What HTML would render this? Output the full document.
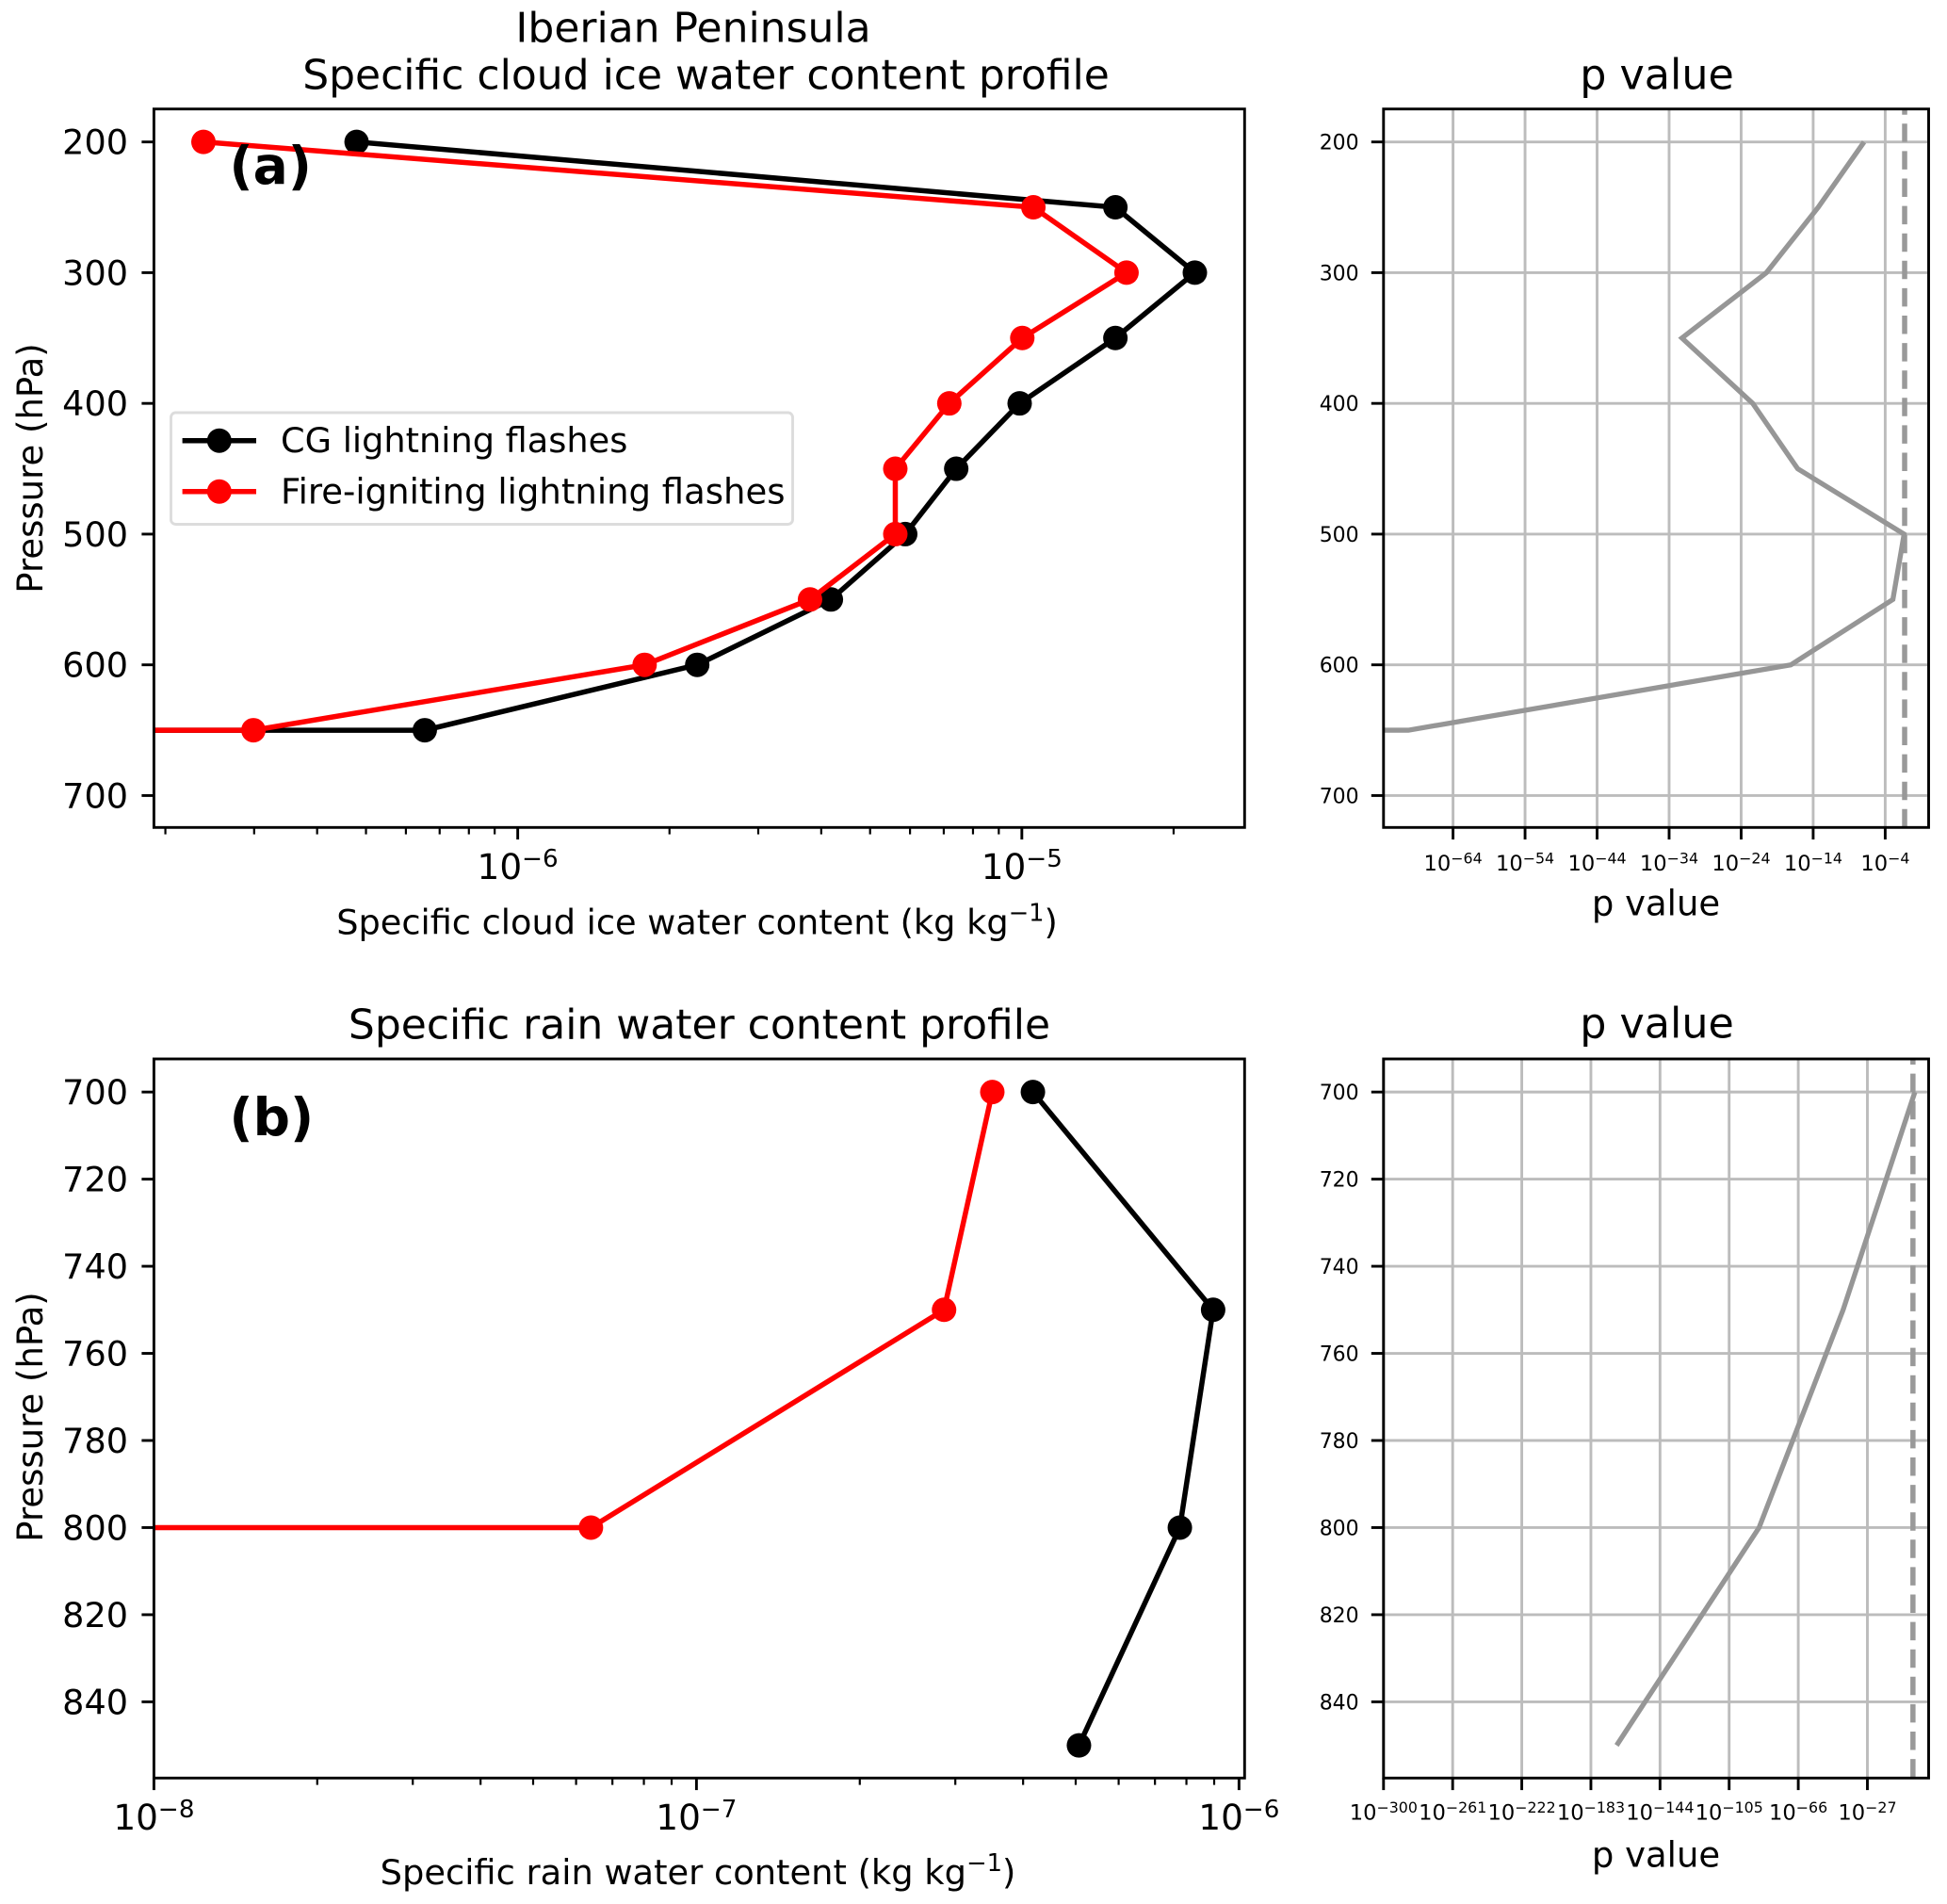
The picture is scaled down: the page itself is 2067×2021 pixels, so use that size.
<!DOCTYPE html>
<html lang="en">
<head>
<meta charset="utf-8">
<title>Iberian Peninsula cloud ice and rain water content profiles</title>
<style>
  html, body { margin: 0; padding: 0; background: #fff; }
  svg { display: block; }
  text { font-family: "DejaVu Sans", "Liberation Sans", sans-serif; fill: #000; }
</style>
</head>
<body>
<svg id="figure" xmlns="http://www.w3.org/2000/svg" width="2067" height="2021" viewBox="0 0 2067 2021">
  <rect x="0" y="0" width="2067" height="2021" fill="#fff"/>
  <defs>
    <clipPath id="clip-ice"><rect x="163.4" y="115.7" width="1157.9" height="762.6"/></clipPath>
    <clipPath id="clip-rain"><rect x="163.4" y="1124" width="1157.9" height="763.3"/></clipPath>
    <clipPath id="clip-pice"><rect x="1468.8" y="115.7" width="578.7" height="762.6"/></clipPath>
    <clipPath id="clip-prain"><rect x="1468.8" y="1124" width="578.7" height="763.3"/></clipPath>
  </defs>

  <g id="panel-ice"></g>
  <g id="panel-rain"></g>
  <g id="panel-pice"></g>
  <g id="panel-prain"></g>

  <text x="736" y="44.3" font-size="44" text-anchor="middle">Iberian Peninsula</text>
  <text x="749.5" y="94.3" font-size="44" text-anchor="middle">Specific cloud ice water content profile</text>
  <text x="742.5" y="1102.3" font-size="44" text-anchor="middle">Specific rain water content profile</text>
  <text x="1759" y="94.3" font-size="44.4" text-anchor="middle">p value</text>
  <text x="1759" y="1101.7" font-size="44.4" text-anchor="middle">p value</text>

  <text x="740" y="991.7" font-size="36.7" text-anchor="middle">Specific cloud ice water content (kg kg<tspan font-size="25.7" dy="-14">−1</tspan><tspan dy="14">)</tspan></text>
  <text x="741" y="2000" font-size="36.8" text-anchor="middle">Specific rain water content (kg kg<tspan font-size="25.8" dy="-14">−1</tspan><tspan dy="14">)</tspan></text>
  <text x="1758" y="971.7" font-size="37" text-anchor="middle">p value</text>
  <text x="1758" y="1981.7" font-size="37" text-anchor="middle">p value</text>

  <text x="45" y="497" font-size="37" text-anchor="middle" transform="rotate(-90 45 497)">Pressure (hPa)</text>
  <text x="45" y="1504" font-size="37" text-anchor="middle" transform="rotate(-90 45 1504)">Pressure (hPa)</text>

  <text x="243.5" y="195" font-size="55" font-weight="bold">(a)</text>
  <text x="243.5" y="1205" font-size="55" font-weight="bold">(b)</text>

  <g>
    <rect x="181.5" y="438" width="660" height="118.5" rx="5" ry="5" fill="#fff" fill-opacity="0.9" stroke="#dcdcdc" stroke-width="2.9"/>
    <line x1="193.6" x2="272" y1="467.7" y2="467.7" stroke="#000" stroke-width="5.5"/>
    <circle cx="232.8" cy="467.7" r="13" fill="#000"/>
    <text x="298" y="480" font-size="36.7">CG lightning flashes</text>
    <line x1="193.6" x2="272" y1="521.7" y2="521.7" stroke="#f00" stroke-width="5.5"/>
    <circle cx="232.8" cy="521.7" r="13" fill="#f00"/>
    <text x="298" y="534.3" font-size="37">Fire-igniting lightning flashes</text>
  </g>
</svg>

<script>
// ---- Panel (a): specific cloud ice water content ----
const icePressure = [200, 250, 300, 350, 400, 450, 500, 550, 600, 650, 650];
const iceCG = [4.79e-7, 1.533e-5, 2.204e-5, 1.533e-5, 9.9e-6, 7.41e-6, 5.87e-6, 4.18e-6, 2.27e-6, 6.54e-7, 1e-8];
const iceFire = [2.38e-7, 1.054e-5, 1.613e-5, 1.002e-5, 7.18e-6, 5.61e-6, 5.61e-6, 3.80e-6, 1.785e-6, 2.99e-7, 1e-8];
const iceMarkerCount = [10];
const iceP = [1.17e-7, 5e-14, 3.2e-21, 6e-33, 4.0e-23, 7.1e-17, 0.042, 1.17e-3, 7.9e-18, 6.3e-71, 1e-90];
const iceXLim = [1.898e-7, 2.766e-5];
const iceYLim = [174.8, 724.4];
const iceYTicks = [200, 300, 400, 500, 600, 700];
const iceXTickExponents = [-6, -5];
const iceXTickLabels = ['−6', '−5'];
const icePLim = [-73.65, 2.03];
const icePTickExponents = [-64, -54, -44, -34, -24, -14, -4];
const icePTickLabels = ['−64', '−54', '−44', '−34', '−24', '−14', '−4'];

// ---- Panel (b): specific rain water content ----
const rainPressureCG = [700, 750, 800, 850];
const rainCG = [4.17e-7, 8.96e-7, 7.78e-7, 5.07e-7];
const rainPressureFire = [700, 750, 800, 800];
const rainFire = [3.51e-7, 2.86e-7, 6.39e-8, 1e-9];
const rainFireMarkerCount = [3];
const rainPPressure = [700, 750, 800, 850];
const rainP = [0.63, 2e-41, 7.9e-89, 3.2e-169];
const rainXLim = [1e-8, 1.024e-6];
const rainYLim = [692.4, 857.5];
const rainYTicks = [700, 720, 740, 760, 780, 800, 820, 840];
const rainXTickExponents = [-8, -7, -6];
const rainXTickLabels = ['−8', '−7', '−6'];
const rainPLim = [-300, 7.55];
const rainPTickExponents = [-300, -261, -222, -183, -144, -105, -66, -27];
const rainPTickLabels = ['−300', '−261', '−222', '−183', '−144', '−105', '−66', '−27'];

const significance = [0.05];

const SVGNS = 'http://www.w3.org/2000/svg';

function make(tag, parent, attrs) {
  const node = document.createElementNS(SVGNS, tag);
  for (const k in attrs) node.setAttribute(k, attrs[k]);
  parent.appendChild(node);
  return node;
}

function xAxis(box, logLim) {
  return function (v) {
    return box.l + (Math.log10(v) - logLim[0]) / (logLim[1] - logLim[0]) * (box.r - box.l);
  };
}
function xAxisExp(box, logLim) {
  return function (e) {
    return box.l + (e - logLim[0]) / (logLim[1] - logLim[0]) * (box.r - box.l);
  };
}
function yAxis(box, lim) {
  return function (p) {
    return box.t + (p - lim[0]) / (lim[1] - lim[0]) * (box.b - box.t);
  };
}

function drawSeries(group, xs, ys, count, color, seriesName, fx, fy, clip) {
  const pts = xs.map(function (v, i) { return fx(v).toFixed(2) + ',' + fy(ys[i]).toFixed(2); }).join(' ');
  const wrap = make('g', group, { 'clip-path': 'url(#' + clip + ')' });
  
  
  const line = make('polyline', wrap, { points: pts, fill: 'none', stroke: color, 'stroke-width': 5.5, 'stroke-linejoin': 'miter' });
  
  
  for (let i = 0; i < count; i++) {
    const dot = make('circle', wrap, { cx: fx(xs[i]), cy: fy(ys[i]), r: 13, fill: color });
    
    
  }
}

function drawFrame(group, box) {
  const frame = make('rect', group, { x: box.l, y: box.t, width: box.r - box.l, height: box.b - box.t, fill: 'none', stroke: '#000', 'stroke-width': 2.9 });
  
  
}

function drawYTicks(group, box, ticks, fy, size, len, labelRight, dyBase) {
  ticks.forEach(function (t) {
    const y = fy(t);
    const tick = make('line', group, { x1: box.l - len, x2: box.l, y1: y, y2: y, stroke: '#000', 'stroke-width': 2.9 });
    
    
    const label = make('text', group, { x: labelRight, y: y + dyBase, 'font-size': size, 'text-anchor': 'end' });
    label.textContent = String(t);
    
    
  });
}

function drawPowerLabel(group, x, baseY, size, supText, supRise, name) {
  const label = make('text', group, { x: x, y: baseY, 'font-size': size, 'text-anchor': 'middle' });
  
  
  const base = make('tspan', label, {});
  base.textContent = '10';
  const sup = make('tspan', label, { 'font-size': size * 0.7, dy: -supRise });
  sup.textContent = supText;
}

function drawLogProfileX(group, box, logLim, exps, labels, baseY) {
  const fe = xAxisExp(box, logLim);
  exps.forEach(function (e, i) {
    const x = fe(e);
    const tick = make('line', group, { x1: x, x2: x, y1: box.b, y2: box.b + 12.8, stroke: '#000', 'stroke-width': 2.9 });
    
    
    drawPowerLabel(group, x, baseY, 37.4, labels[i], 13, 'x-tick-label-1e' + e);
  });
  for (let d = Math.floor(logLim[0]); d < Math.ceil(logLim[1]); d++) {
    for (let m = 2; m <= 9; m++) {
      const e = d + Math.log10(m);
      if (e < logLim[0] || e > logLim[1]) continue;
      const x = fe(e);
      const minor = make('line', group, { x1: x, x2: x, y1: box.b, y2: box.b + 7.3, stroke: '#000', 'stroke-width': 2.2 });
      
      
    }
  }
}

function drawPPanel(group, box, logLim, yLim, xExps, labels, yTicks, pressures, values, clip, baseY, name) {
  const fx = xAxis(box, logLim);
  const fe = xAxisExp(box, logLim);
  const fy = yAxis(box, yLim);
  xExps.forEach(function (e) {
    const x = fe(e);
    const grid = make('line', group, { x1: x, x2: x, y1: box.t, y2: box.b, stroke: '#bcbcbc', 'stroke-width': 2.9 });
    
    
  });
  yTicks.forEach(function (t) {
    const y = fy(t);
    const grid = make('line', group, { x1: box.l, x2: box.r, y1: y, y2: y, stroke: '#bcbcbc', 'stroke-width': 2.9 });
    
    
  });
  const sx = fx(significance[0]);
  const dash = make('line', group, { x1: sx, x2: sx, y1: box.t, y2: box.b, stroke: '#999', 'stroke-width': 5.5, 'stroke-dasharray': '19.5 9.6', 'stroke-dashoffset': 13.5 });
  
  
  const pts = values.map(function (v, i) { return fx(v).toFixed(2) + ',' + fy(pressures[i]).toFixed(2); }).join(' ');
  const curve = make('polyline', group, { points: pts, fill: 'none', stroke: '#969696', 'stroke-width': 5.3, 'clip-path': 'url(#' + clip + ')' });
  
  
  xExps.forEach(function (e, i) {
    const x = fe(e);
    const tick = make('line', group, { x1: x, x2: x, y1: box.b, y2: box.b + 12.8, stroke: '#000', 'stroke-width': 2.9 });
    
    
    drawPowerLabel(group, x, baseY, 22.6, labels[i], 7.5, 'x-tick-label-1e' + e);
  });
  drawYTicks(group, box, yTicks, fy, 22, 13, 1442.7, 8);
  drawFrame(group, box);
}

const boxIce = { l: 163.4, r: 1321.3, t: 115.7, b: 878.3 };
const boxRain = { l: 163.4, r: 1321.3, t: 1124, b: 1887.3 };
const boxPIce = { l: 1468.8, r: 2047.5, t: 115.7, b: 878.3 };
const boxPRain = { l: 1468.8, r: 2047.5, t: 1124, b: 1887.3 };

// Panel (a)
(function () {
  const g = document.getElementById('panel-ice');
  const lim = [Math.log10(iceXLim[0]), Math.log10(iceXLim[1])];
  const fx = xAxis(boxIce, lim);
  const fy = yAxis(boxIce, iceYLim);
  drawSeries(g, iceCG, icePressure, iceMarkerCount[0], '#000', 'ice-cg', fx, fy, 'clip-ice');
  drawSeries(g, iceFire, icePressure, iceMarkerCount[0], '#f00', 'ice-fire', fx, fy, 'clip-ice');
  drawLogProfileX(g, boxIce, lim, iceXTickExponents, iceXTickLabels, 933);
  drawYTicks(g, boxIce, iceYTicks, fy, 36.6, 13, 136, 13);
  drawFrame(g, boxIce);
})();

// Panel (b)
(function () {
  const g = document.getElementById('panel-rain');
  const lim = [Math.log10(rainXLim[0]), Math.log10(rainXLim[1])];
  const fx = xAxis(boxRain, lim);
  const fy = yAxis(boxRain, rainYLim);
  drawSeries(g, rainCG, rainPressureCG, rainCG.length, '#000', 'rain-cg', fx, fy, 'clip-rain');
  drawSeries(g, rainFire, rainPressureFire, rainFireMarkerCount[0], '#f00', 'rain-fire', fx, fy, 'clip-rain');
  drawLogProfileX(g, boxRain, lim, rainXTickExponents, rainXTickLabels, 1942);
  drawYTicks(g, boxRain, rainYTicks, fy, 36.6, 13, 136, 13);
  drawFrame(g, boxRain);
})();

// p-value panels
drawPPanel(document.getElementById('panel-pice'), boxPIce, icePLim, iceYLim, icePTickExponents, icePTickLabels, iceYTicks, icePressure, iceP, 'clip-pice', 924, 'ice-p-value');
drawPPanel(document.getElementById('panel-prain'), boxPRain, rainPLim, rainYLim, rainPTickExponents, rainPTickLabels, rainYTicks, rainPPressure, rainP, 'clip-prain', 1931.7, 'rain-p-value');
</script>
</body>
</html>
